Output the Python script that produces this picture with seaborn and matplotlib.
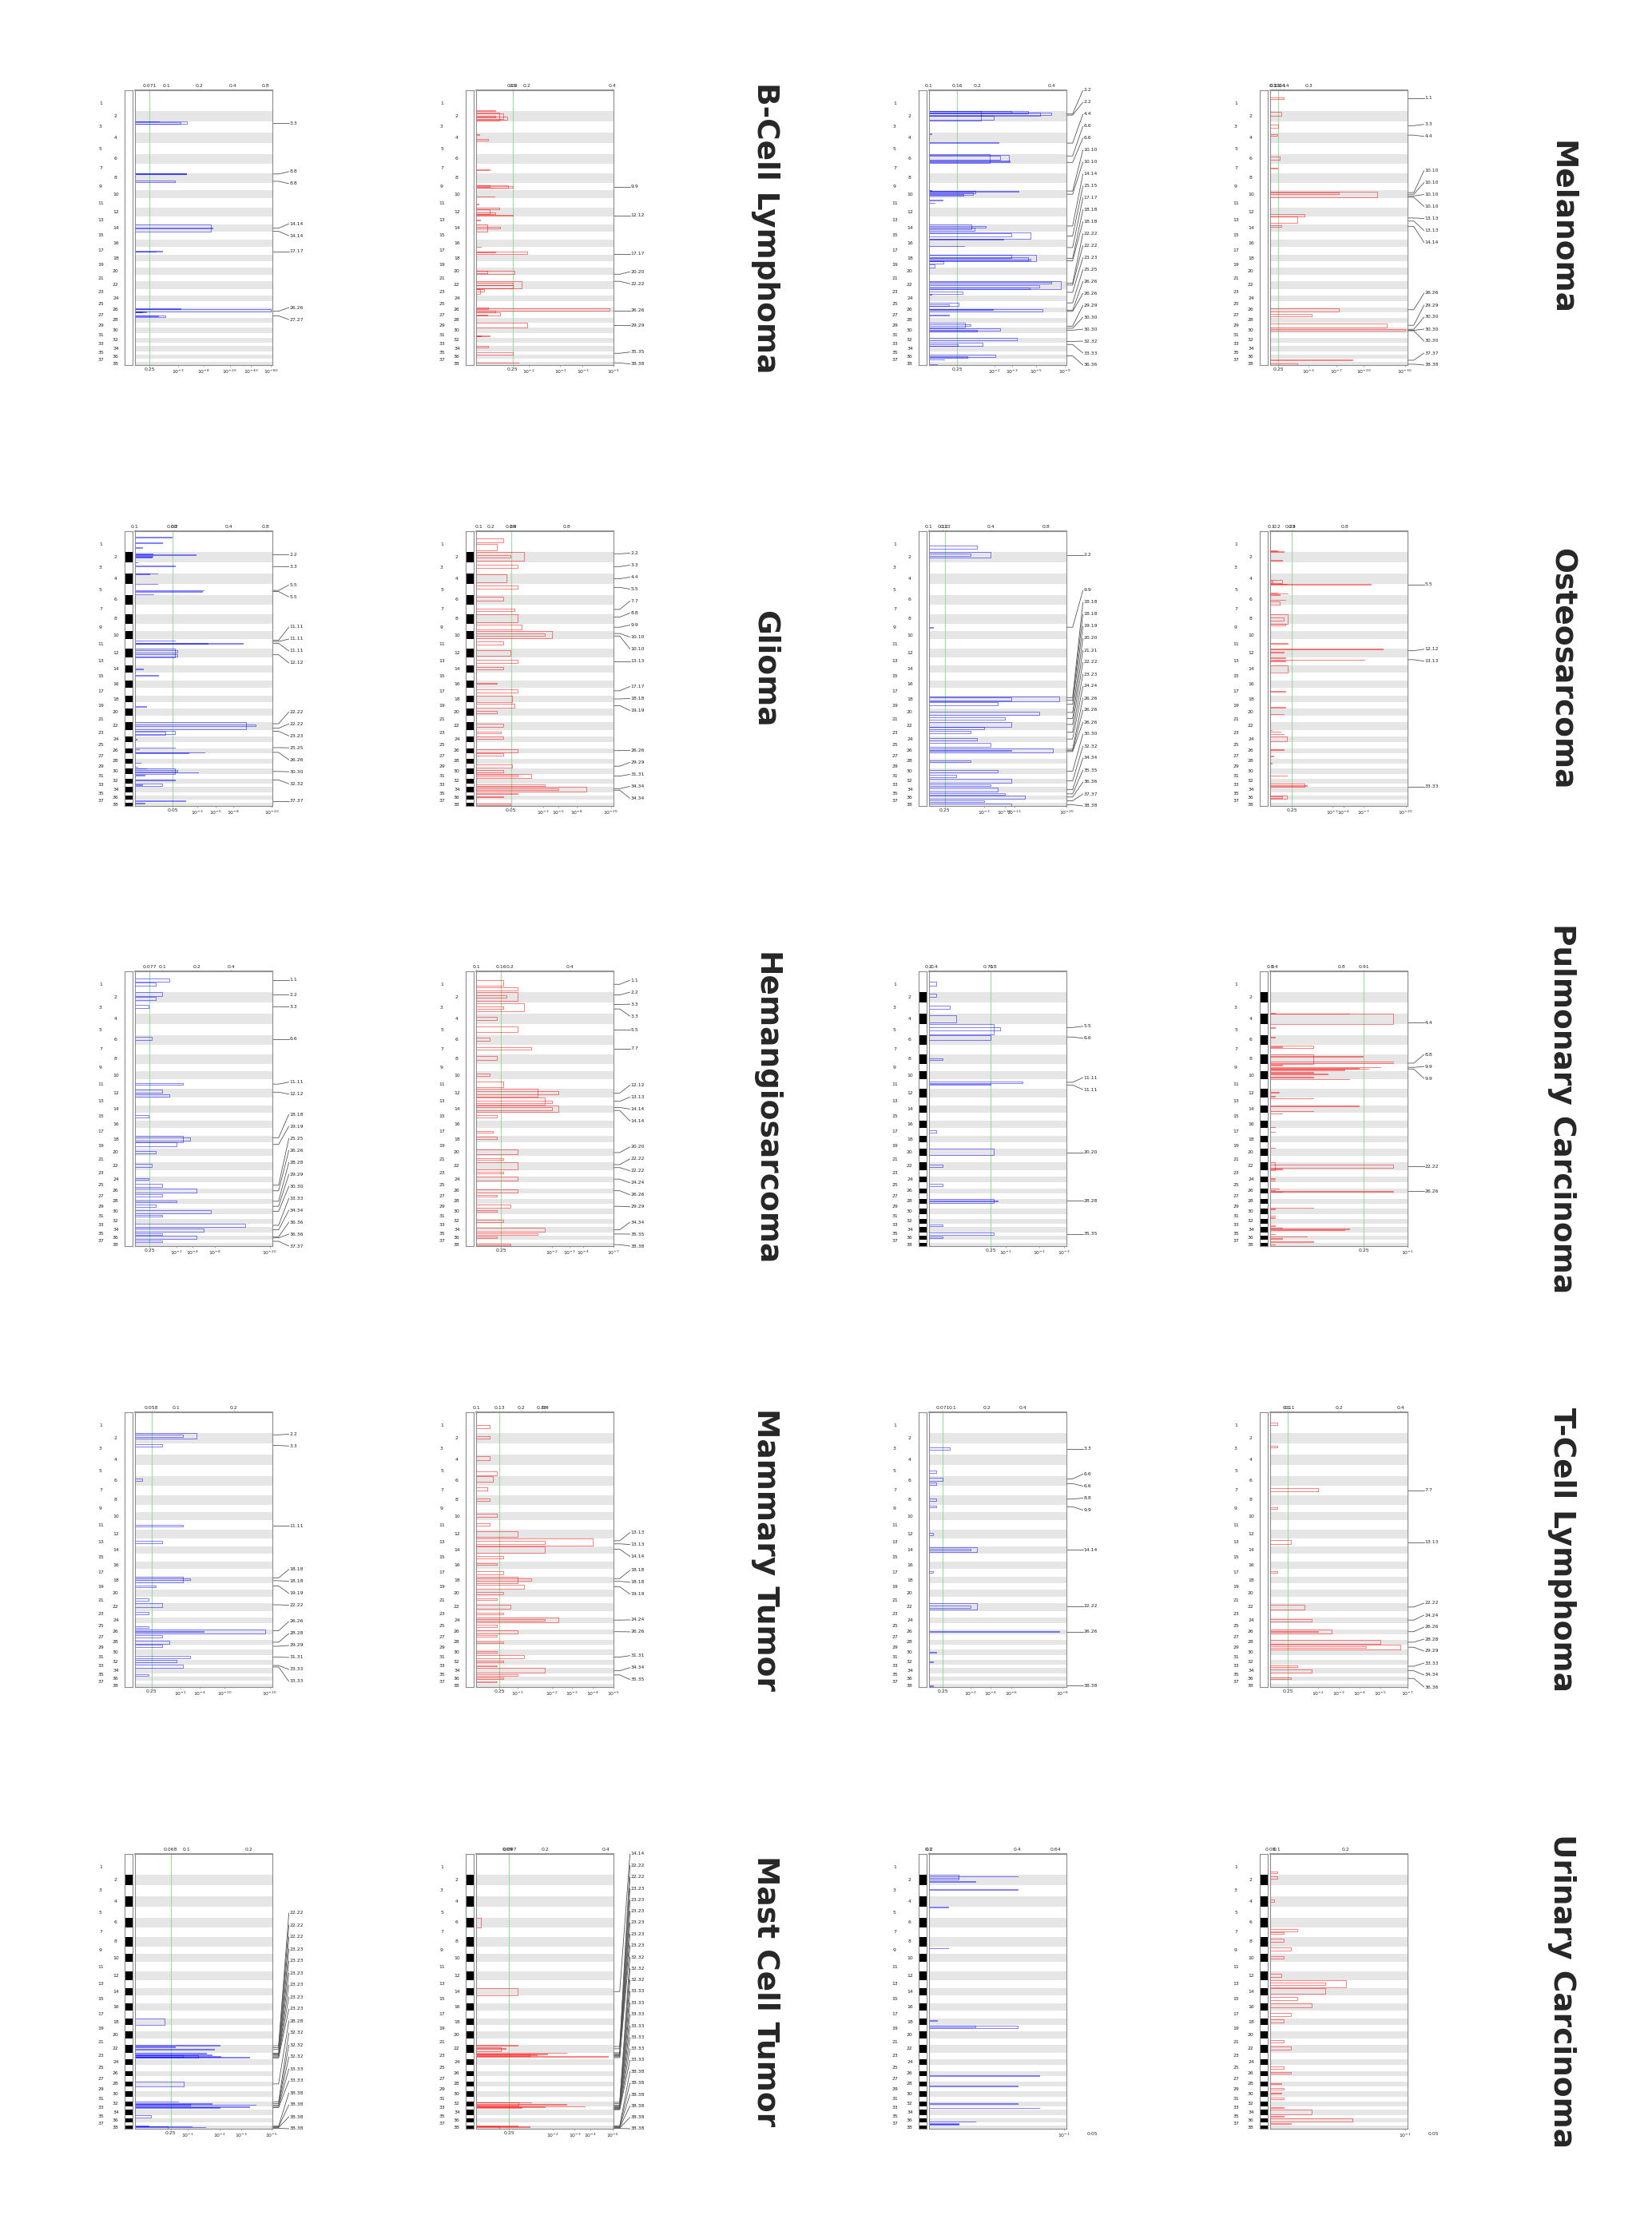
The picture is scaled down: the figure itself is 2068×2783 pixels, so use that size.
import numpy as np
import pandas as pd
import matplotlib
matplotlib.use("Agg")
from matplotlib import pyplot as plt
import matplotlib.transforms as mtransforms
import seaborn as sns

# canine chromosome sizes (Mb), chr1..chr38
CHROM_MB = [122.7, 85.4, 91.9, 88.3, 88.9, 77.6, 81.0, 74.7, 61.1, 69.3,
            74.4, 72.5, 63.2, 61.0, 64.2, 59.6, 64.3, 55.8, 53.7, 58.1,
            50.9, 61.4, 52.3, 47.7, 51.6, 39.0, 45.9, 41.2, 41.8, 40.2,
            39.9, 38.8, 31.4, 42.1, 26.5, 30.8, 31.0, 23.9]

CANCERS = ["B-Cell Lymphoma", "Melanoma", "Glioma", "Osteosarcoma",
           "Hemangiosarcoma", "Pulmonary Carcinoma", "Mammary Tumor",
           "T-Cell Lymphoma", "Mast Cell Tumor", "Urinary Carcinoma"]

# x is the scaled significance score of each panel (0 = left edge, 1 = right edge)
# segments: (chromosome, start fraction, end fraction, score)
# labels: (chromosome, fraction) of the highlighted regions

# ---------------- B-Cell Lymphoma ----------------
BCL_LOSS_TOP = [(0.107, "0.071"), (0.227, "0.1"), (0.47, "0.2"), (0.713, "0.4"), (0.95, "0.8")]
BCL_LOSS_BOTTOM = [(0.107, "0.25"), (0.315, "$10^{-3}$"), (0.499, "$10^{-8}$"), (0.689, "$10^{-20}$"),
                   (0.843, "$10^{-40}$"), (0.99, "$10^{-80}$")]
BCL_LOSS_THR = 0.107
BCL_LOSS_SEGS = [(3, 0.0, 0.05, 0.175), (3, 0.05, 0.25, 0.38), (3, 0.1, 0.2, 0.33),
                 (8, 0.0, 0.06, 0.37), (8, 0.0, 0.04, 0.37), (8, 0.8, 0.98, 0.29),
                 (14, 0.0, 1.0, 0.55), (14, 0.5, 0.6, 0.565),
                 (17, 0.55, 0.65, 0.2), (17, 0.58, 0.62, 0.15),
                 (26, 0.4, 0.82, 0.99), (26, 0.25, 0.4, 0.33), (26, 0.85, 1.0, 0.08), (26, 0.88, 0.98, 0.05),
                 (27, 0.55, 0.9, 0.22), (27, 0.6, 0.75, 0.17)]
BCL_LOSS_LABELS = [(3, 0.18), (8, 0.06), (8, 0.86), (14, 0.54), (14, 0.96), (17, 0.6), (26, 0.82), (27, 0.67)]

BCL_GAIN_TOP = [(0.262, "0.09"), (0.272, "0.1"), (0.37, "0.2"), (0.99, "0.4")]
BCL_GAIN_BOTTOM = [(0.266, "0.25"), (0.383, "$10^{-1}$"), (0.613, "$10^{-2}$"), (0.776, "$10^{-3}$"), (1.0, "$10^{-5}$")]
BCL_GAIN_THR = 0.266
BCL_GAIN_SEGS = [(1, 0.95, 1.0, 0.14), (2, 0.2, 0.95, 0.17), (2, 0.25, 0.8, 0.2), (2, 0.6, 0.85, 0.224),
                 (2, 0.45, 0.65, 0.14), (4, 0.15, 0.25, 0.025), (4, 0.6, 0.75, 0.087), (7, 0.6, 0.68, 0.097),
                 (9, 0.4, 0.7, 0.23), (9, 0.5, 0.65, 0.27), (9, 0.42, 0.55, 0.1), (10, 0.72, 0.8, 0.136),
                 (11, 0.6, 0.64, 0.015), (12, 0.0, 0.2, 0.17), (12, 0.2, 0.7, 0.1), (12, 0.55, 0.7, 0.14),
                 (12, 0.85, 0.95, 0.27), (13, 0.4, 0.48, 0.03), (14, 0.0, 1.0, 0.082), (14, 0.4, 0.55, 0.175),
                 (17, 0.0, 0.04, 0.033), (17, 0.57, 0.95, 0.37), (17, 0.57, 0.7, 0.14),
                 (20, 0.4, 0.9, 0.28), (20, 0.35, 0.7, 0.08), (22, 0.0, 0.95, 0.33), (22, 0.2, 0.5, 0.27),
                 (22, 0.5, 0.9, 0.27), (23, 0.0, 0.8, 0.03), (23, 0.0, 0.4, 0.06),
                 (26, 0.2, 0.7, 0.97), (26, 0.0, 0.4, 0.085), (26, 0.7, 1.0, 0.14),
                 (27, 0.1, 0.6, 0.175), (27, 0.45, 0.65, 0.08), (29, 0.0, 1.0, 0.37),
                 (31, 0.6, 0.75, 0.097), (31, 0.6, 0.68, 0.035), (34, 0.0, 0.3, 0.086),
                 (35, 0.3, 1.0, 0.27), (38, 0.1, 0.3, 0.31)]
BCL_GAIN_LABELS = [(9, 0.57), (12, 0.9), (17, 0.9), (20, 0.88), (22, 0.0), (26, 0.7), (29, 0.5), (35, 0.6), (38, 0.25)]

# ---------------- Melanoma ----------------
MEL_LOSS_TOP = [(0.0, "0.1"), (0.204, "0.16"), (0.35, "0.2"), (0.893, "0.4")]
MEL_LOSS_BOTTOM = [(0.204, "0.25"), (0.476, "$10^{-2}$"), (0.602, "$10^{-3}$"), (0.777, "$10^{-5}$"), (0.99, "$10^{-9}$")]
MEL_LOSS_THR = 0.204
MEL_LOSS_SEGS = [(2, 0.0, 0.95, 0.38), (2, 0.0, 0.2, 0.6), (2, 0.05, 0.25, 0.72), (2, 0.15, 0.4, 0.89),
                 (2, 0.2, 0.5, 0.81), (2, 0.5, 0.85, 0.47), (4, 0.1, 0.2, 0.02), (4, 0.88, 0.97, 0.505),
                 (6, 0.0, 0.95, 0.44), (6, 0.1, 0.8, 0.58), (6, 0.2, 0.6, 0.52), (6, 0.7, 0.85, 0.59),
                 (10, 0.0, 0.1, 0.02), (10, 0.1, 0.2, 0.65), (10, 0.1, 0.4, 0.34), (10, 0.3, 0.6, 0.32),
                 (10, 0.5, 0.7, 0.25), (11, 0.15, 0.2, 0.1), (11, 0.45, 0.5, 0.043),
                 (14, 0.0, 0.7, 0.31), (14, 0.3, 0.5, 0.41), (14, 0.5, 0.9, 0.33),
                 (15, 0.1, 0.95, 0.74), (15, 0.2, 0.6, 0.6), (15, 0.9, 1.0, 0.54), (16, 0.85, 0.95, 0.256),
                 (18, 0.0, 0.95, 0.78), (18, 0.0, 0.5, 0.6), (18, 0.4, 0.8, 0.72), (18, 0.65, 0.9, 0.74),
                 (19, 0.0, 0.3, 0.107), (19, 0.4, 1.0, 0.04), (22, 0.0, 1.0, 0.96), (22, 0.1, 0.3, 0.89),
                 (22, 0.5, 0.8, 0.8), (22, 0.8, 1.0, 0.73), (23, 0.4, 0.85, 0.243), (23, 0.85, 0.95, 0.02),
                 (25, 0.3, 0.8, 0.218), (25, 0.5, 0.8, 0.146), (26, 0.3, 0.9, 0.825), (26, 0.3, 0.6, 0.466),
                 (27, 0.5, 0.6, 0.146), (29, 0.0, 1.0, 0.26), (29, 0.3, 0.7, 0.3),
                 (30, 0.05, 0.6, 0.515), (30, 0.5, 0.8, 0.35), (32, 0.0, 0.5, 0.637),
                 (33, 0.1, 0.9, 0.39), (33, 0.5, 1.0, 0.21), (36, 0.0, 0.6, 0.485), (36, 0.5, 0.9, 0.28),
                 (37, 0.2, 0.4, 0.113), (38, 0.8, 1.0, 0.06)]
MEL_LOSS_LABELS = [(2, 0.31), (2, 0.42), (4, 0.99), (6, 0.2), (6, 0.88), (10, 0.12), (10, 0.5), (14, 0.25),
                   (15, 0.57), (17, 0.1), (18, 0.55), (18, 0.9), (22, 0.25), (22, 0.5), (23, 0.55),
                   (25, 0.3), (26, 0.6), (26, 0.85), (29, 0.67), (30, 0.08), (30, 0.48), (32, 0.8),
                   (33, 0.55), (36, 0.35)]

MEL_GAIN_TOP = [(0.02, "0.1"), (0.04, "0.11"), (0.07, "0.14"), (0.1, "0.14"), (0.28, "0.3")]
MEL_GAIN_BOTTOM = [(0.06, "0.25"), (0.28, "$10^{-3}$"), (0.48, "$10^{-7}$"), (0.68, "$10^{-20}$"), (0.98, "$10^{-30}$")]
MEL_GAIN_THR = 0.06
MEL_GAIN_SEGS = [(1, 0.1, 0.2, 0.1), (2, 0.1, 0.5, 0.08), (3, 0.3, 0.6, 0.06), (4, 0.2, 0.3, 0.05),
                 (6, 0.3, 0.6, 0.07), (7, 0.4, 0.5, 0.05), (10, 0.2, 0.9, 0.78), (10, 0.3, 0.5, 0.5),
                 (12, 0.7, 1.0, 0.25), (13, 0.0, 0.8, 0.2), (14, 0.1, 0.4, 0.08), (26, 0.2, 0.8, 0.5),
                 (27, 0.3, 0.7, 0.3), (29, 0.2, 0.9, 0.85), (30, 0.2, 0.6, 0.98), (37, 0.3, 0.6, 0.6),
                 (38, 0.5, 0.9, 0.2)]
MEL_GAIN_LABELS = [(1, 0.15), (3, 0.4), (4, 0.25), (10, 0.3), (10, 0.5), (10, 0.7), (10, 0.85), (13, 0.2),
                   (13, 0.6), (14, 0.3), (26, 0.5), (29, 0.5), (30, 0.3), (30, 0.5), (30, 0.6), (37, 0.5), (38, 0.7)]

# ---------------- Glioma ----------------
GLI_LOSS_TOP = [(0.0, "0.1"), (0.27, "0.08"), (0.285, "0.2"), (0.683, "0.4"), (0.951, "0.8")]
GLI_LOSS_BOTTOM = [(0.275, "0.05"), (0.454, "$10^{-3}$"), (0.586, "$10^{-5}$"), (0.713, "$10^{-8}$"), (0.994, "$10^{-20}$")]
GLI_LOSS_THR = 0.275
GLI_LOSS_SEGS = [(1, 0.02, 0.05, 0.266), (1, 0.4, 0.43, 0.2), (1, 0.7, 0.73, 0.05),
                 (2, 0.2, 0.25, 0.13), (2, 0.28, 0.33, 0.44), (2, 0.4, 0.45, 0.13), (2, 0.5, 0.55, 0.12),
                 (3, 0.0, 0.03, 0.02), (3, 0.33, 0.38, 0.29), (4, 0.0, 0.03, 0.165), (4, 0.05, 0.08, 0.107),
                 (4, 0.95, 0.99, 0.165), (5, 0.55, 0.6, 0.5), (5, 0.65, 0.7, 0.49), (5, 0.92, 0.97, 0.136),
                 (11, 0.1, 0.14, 0.29), (11, 0.4, 0.45, 0.786), (11, 0.4, 0.45, 0.53),
                 (12, 0.0, 1.0, 0.29), (12, 0.2, 0.5, 0.31), (12, 0.6, 0.9, 0.31),
                 (14, 0.5, 0.55, 0.06), (15, 0.35, 0.4, 0.17), (19, 0.6, 0.68, 0.08),
                 (22, 0.0, 0.92, 0.81), (22, 0.3, 0.5, 0.877), (23, 0.2, 0.7, 0.29), (23, 0.3, 0.8, 0.22),
                 (24, 0.5, 0.55, 0.01), (25, 0.88, 0.92, 0.29), (26, 0.2, 0.25, 0.03),
                 (26, 0.82, 0.87, 0.505), (26, 0.92, 0.97, 0.39), (28, 0.82, 0.87, 0.04),
                 (29, 0.6, 0.66, 0.02), (29, 0.9, 0.95, 0.08), (30, 0.0, 1.0, 0.29), (30, 0.3, 0.6, 0.31),
                 (30, 0.75, 0.8, 0.46), (31, 0.3, 0.35, 0.07), (32, 0.2, 0.4, 0.29), (33, 0.0, 0.7, 0.2),
                 (33, 0.2, 0.5, 0.05), (37, 0.4, 0.5, 0.367), (38, 0.0, 0.2, 0.07)]
GLI_LOSS_LABELS = [(2, 0.3), (3, 0.4), (5, 0.58), (5, 0.68), (11, 0.1), (11, 0.23), (11, 0.43), (12, 0.7),
                   (22, 0.2), (22, 0.8), (23, 0.25), (25, 0.9), (26, 0.87), (30, 0.55), (32, 0.3), (37, 0.5)]

GLI_GAIN_TOP = [(0.02, "0.1"), (0.11, "0.2"), (0.25, "0.28"), (0.27, "0.4"), (0.66, "0.8")]
GLI_GAIN_BOTTOM = [(0.255, "0.05"), (0.49, "$10^{-3}$"), (0.6, "$10^{-5}$"), (0.73, "$10^{-8}$"), (0.98, "$10^{-20}$")]
GLI_GAIN_THR = 0.255
GLI_GAIN_SEGS = [(1, 0.1, 0.4, 0.2), (1, 0.5, 0.9, 0.15), (2, 0.0, 0.9, 0.35), (2, 0.3, 0.6, 0.25),
                 (3, 0.2, 0.5, 0.3), (4, 0.1, 0.8, 0.22), (5, 0.1, 0.4, 0.3), (6, 0.2, 0.6, 0.2),
                 (7, 0.4, 0.7, 0.28), (8, 0.0, 0.9, 0.3), (9, 0.2, 0.8, 0.33), (10, 0.0, 0.9, 0.55),
                 (10, 0.3, 0.6, 0.5), (11, 0.2, 0.6, 0.2), (12, 0.2, 0.8, 0.25), (13, 0.3, 0.7, 0.3),
                 (14, 0.3, 0.6, 0.2), (16, 0.3, 0.5, 0.15), (17, 0.2, 0.6, 0.3), (18, 0.0, 1.0, 0.26),
                 (19, 0.2, 0.8, 0.28), (20, 0.3, 0.6, 0.15), (22, 0.2, 0.6, 0.2), (23, 0.3, 0.6, 0.18),
                 (24, 0.1, 0.5, 0.2), (26, 0.2, 0.8, 0.3), (27, 0.1, 0.4, 0.2), (29, 0.2, 0.8, 0.26),
                 (30, 0.3, 0.7, 0.2), (31, 0.0, 0.9, 0.4), (31, 0.3, 0.6, 0.3), (33, 0.2, 0.8, 0.5),
                 (34, 0.0, 0.9, 0.8), (34, 0.3, 0.6, 0.6), (35, 0.2, 0.6, 0.3), (36, 0.2, 0.5, 0.2),
                 (38, 0.2, 0.6, 0.25)]
GLI_GAIN_LABELS = [(2, 0.2), (3, 0.4), (4, 0.5), (5, 0.3), (7, 0.5), (8, 0.3), (9, 0.5), (10, 0.3), (10, 0.6),
                   (13, 0.5), (17, 0.4), (18, 0.5), (19, 0.5), (26, 0.5), (29, 0.5), (31, 0.5), (34, 0.3), (34, 0.6)]

# ---------------- Osteosarcoma ----------------
OST_LOSS_TOP = [(0.0, "0.1"), (0.1, "0.12"), (0.12, "0.13"), (0.45, "0.4"), (0.85, "0.8")]
OST_LOSS_BOTTOM = [(0.115, "0.25"), (0.4, "$10^{-3}$"), (0.55, "$10^{-10}$"), (0.62, "$10^{-13}$"), (1.0, "$10^{-20}$")]
OST_LOSS_THR = 0.115
OST_LOSS_SEGS = [(1, 0.6, 0.8, 0.35), (2, 0.0, 0.6, 0.45), (2, 0.2, 0.4, 0.3), (9, 0.5, 0.6, 0.03),
                 (18, 0.2, 0.9, 0.95), (18, 0.3, 0.7, 0.6), (19, 0.0, 0.5, 0.5), (20, 0.4, 0.8, 0.8),
                 (21, 0.2, 0.6, 0.55), (22, 0.0, 0.6, 0.6), (22, 0.6, 0.9, 0.4), (23, 0.2, 0.6, 0.3),
                 (24, 0.3, 0.7, 0.35), (25, 0.2, 0.8, 0.45), (26, 0.0, 0.8, 0.9), (26, 0.3, 0.6, 0.6),
                 (28, 0.3, 0.7, 0.3), (30, 0.2, 0.8, 0.5), (31, 0.3, 0.7, 0.2), (32, 0.0, 0.9, 0.6),
                 (33, 0.2, 0.7, 0.45), (34, 0.1, 0.9, 0.5), (35, 0.2, 0.8, 0.55), (36, 0.1, 0.8, 0.7),
                 (37, 0.2, 0.7, 0.4), (38, 0.3, 0.9, 0.6)]
OST_LOSS_LABELS = [(2, 0.3), (9, 0.5), (18, 0.3), (18, 0.7), (19, 0.3), (20, 0.5), (21, 0.4), (22, 0.3),
                   (23, 0.4), (24, 0.5), (26, 0.2), (26, 0.5), (26, 0.7), (30, 0.5), (32, 0.5), (34, 0.5),
                   (35, 0.5), (36, 0.4), (37, 0.4), (38, 0.6)]

OST_GAIN_TOP = [(0.01, "0.1"), (0.05, "0.2"), (0.15, "0.29"), (0.16, "0.3"), (0.545, "0.8")]
OST_GAIN_BOTTOM = [(0.159, "0.25"), (0.455, "$10^{-3}$"), (0.532, "$10^{-4}$"), (0.68, "$10^{-7}$"), (0.986, "$10^{-20}$")]
OST_GAIN_THR = 0.159
OST_GAIN_SEGS = [(1, 0.93, 0.96, 0.052), (1, 0.98, 1.0, 0.1), (2, 0.8, 0.84, 0.09),
                 (4, 0.6, 0.9, 0.087), (4, 0.7, 0.8, 0.02), (4, 0.95, 1.0, 0.12), (5, 0.0, 0.05, 0.735),
                 (5, 0.78, 0.8, 0.05), (5, 0.85, 0.88, 0.13), (5, 0.95, 0.98, 0.07),
                 (6, 0.5, 0.55, 0.11), (6, 0.7, 0.98, 0.068), (8, 0.0, 1.0, 0.13), (8, 0.3, 0.7, 0.1),
                 (9, 0.05, 0.3, 0.11), (11, 0.4, 0.45, 0.13), (12, 0.05, 0.1, 0.82), (12, 0.4, 0.45, 0.1),
                 (13, 0.05, 0.1, 0.11), (13, 0.28, 0.32, 0.687), (13, 0.45, 0.5, 0.11), (14, 0.0, 1.0, 0.13),
                 (17, 0.45, 0.5, 0.11), (19, 0.72, 0.77, 0.11), (20, 0.68, 0.72, 0.1),
                 (23, 0.0, 0.04, 0.01), (23, 0.3, 0.34, 0.075), (23, 0.68, 0.72, 0.1), (24, 0.1, 0.9, 0.12),
                 (26, 0.25, 0.3, 0.1), (27, 0.5, 0.55, 0.024), (28, 0.88, 0.92, 0.01), (31, 0.35, 0.4, 0.12),
                 (33, 0.1, 1.0, 0.25), (33, 0.5, 0.7, 0.265), (36, 0.1, 0.9, 0.12), (36, 0.3, 0.6, 0.09)]
OST_GAIN_LABELS = [(5, 0.05), (12, 0.25), (13, 0.3), (33, 0.9)]

# ---------------- Hemangiosarcoma ----------------
HSA_LOSS_TOP = [(0.107, "0.077"), (0.2, "0.1"), (0.45, "0.2"), (0.7, "0.4")]
HSA_LOSS_BOTTOM = [(0.107, "0.25"), (0.3, "$10^{-2}$"), (0.42, "$10^{-4}$"), (0.58, "$10^{-8}$"), (0.98, "$10^{-20}$")]
HSA_LOSS_THR = 0.107
HSA_LOSS_SEGS = [(1, 0.1, 0.3, 0.25), (1, 0.4, 0.6, 0.15), (2, 0.0, 0.4, 0.2), (2, 0.5, 0.8, 0.15),
                 (3, 0.2, 0.5, 0.1), (6, 0.2, 0.5, 0.12), (11, 0.4, 0.6, 0.35), (12, 0.1, 0.5, 0.2),
                 (12, 0.6, 0.9, 0.25), (15, 0.3, 0.6, 0.1), (18, 0.0, 1.0, 0.35), (18, 0.3, 0.7, 0.4),
                 (19, 0.0, 0.6, 0.3), (20, 0.3, 0.6, 0.15), (22, 0.2, 0.6, 0.12), (24, 0.4, 0.6, 0.1),
                 (25, 0.3, 0.8, 0.2), (26, 0.1, 0.9, 0.45), (27, 0.2, 0.6, 0.2), (28, 0.3, 0.7, 0.3),
                 (29, 0.2, 0.7, 0.15), (30, 0.3, 0.9, 0.55), (31, 0.2, 0.6, 0.2), (33, 0.1, 0.9, 0.8),
                 (34, 0.2, 0.8, 0.5), (35, 0.3, 0.7, 0.2), (36, 0.1, 0.9, 0.45), (37, 0.4, 0.7, 0.2)]
HSA_LOSS_LABELS = [(1, 0.2), (2, 0.3), (3, 0.4), (6, 0.4), (11, 0.5), (12, 0.4), (18, 0.3), (19, 0.3), (25, 0.5),
                   (26, 0.5), (28, 0.5), (29, 0.5), (30, 0.5), (33, 0.5), (34, 0.5), (36, 0.3), (36, 0.6), (37, 0.5)]

HSA_GAIN_TOP = [(0.0, "0.1"), (0.18, "0.16"), (0.25, "0.2"), (0.68, "0.4")]
HSA_GAIN_BOTTOM = [(0.18, "0.25"), (0.55, "$10^{-2}$"), (0.68, "$10^{-3}$"), (0.78, "$10^{-4}$"), (1.0, "$10^{-7}$")]
HSA_GAIN_THR = 0.18
HSA_GAIN_SEGS = [(1, 0.2, 0.6, 0.2), (1, 0.7, 0.9, 0.3), (2, 0.0, 0.9, 0.3), (2, 0.3, 0.6, 0.22),
                 (3, 0.1, 0.8, 0.35), (3, 0.4, 0.6, 0.2), (4, 0.3, 0.6, 0.15), (5, 0.2, 0.7, 0.3),
                 (6, 0.3, 0.6, 0.1), (7, 0.3, 0.5, 0.4), (8, 0.2, 0.6, 0.15), (10, 0.3, 0.6, 0.1),
                 (11, 0.2, 0.8, 0.2), (12, 0.0, 0.9, 0.45), (12, 0.3, 0.6, 0.6), (13, 0.0, 0.9, 0.5),
                 (13, 0.4, 0.7, 0.55), (14, 0.0, 0.9, 0.6), (14, 0.3, 0.7, 0.55), (15, 0.3, 0.6, 0.15),
                 (17, 0.4, 0.6, 0.12), (18, 0.2, 0.5, 0.15), (20, 0.1, 0.7, 0.3), (21, 0.3, 0.6, 0.2),
                 (22, 0.0, 0.9, 0.3), (23, 0.3, 0.6, 0.2), (24, 0.1, 0.8, 0.3), (26, 0.2, 0.8, 0.3),
                 (27, 0.3, 0.6, 0.15), (29, 0.2, 0.8, 0.25), (30, 0.3, 0.6, 0.15), (32, 0.2, 0.7, 0.2),
                 (34, 0.1, 0.9, 0.5), (35, 0.2, 0.8, 0.45), (36, 0.3, 0.6, 0.15), (38, 0.2, 0.7, 0.25)]
HSA_GAIN_LABELS = [(1, 0.5), (2, 0.3), (3, 0.2), (3, 0.6), (5, 0.5), (7, 0.4), (12, 0.5), (13, 0.5), (14, 0.3),
                   (14, 0.7), (20, 0.5), (22, 0.3), (22, 0.7), (24, 0.5), (26, 0.5), (29, 0.5), (34, 0.5),
                   (35, 0.5), (38, 0.5)]

# ---------------- Pulmonary Carcinoma ----------------
PUL_LOSS_TOP = [(0.0, "0.2"), (0.04, "0.4"), (0.43, "0.71"), (0.47, "0.8")]
PUL_LOSS_BOTTOM = [(0.45, "0.25"), (0.56, "$10^{-1}$"), (0.8, "$10^{-2}$"), (0.98, "$10^{-3}$")]
PUL_LOSS_THR = 0.45
PUL_LOSS_SEGS = [(1, 0.3, 0.6, 0.05), (2, 0.2, 0.5, 0.05), (3, 0.3, 0.6, 0.15), (4, 0.2, 0.8, 0.2),
                 (5, 0.0, 0.9, 0.47), (5, 0.3, 0.6, 0.52), (6, 0.0, 0.5, 0.45), (8, 0.4, 0.6, 0.1),
                 (11, 0.2, 0.4, 0.68), (11, 0.5, 0.6, 0.45), (17, 0.3, 0.6, 0.05), (20, 0.0, 0.8, 0.47),
                 (22, 0.3, 0.6, 0.1), (25, 0.3, 0.6, 0.1), (28, 0.0, 0.8, 0.47), (28, 0.3, 0.5, 0.5),
                 (33, 0.3, 0.7, 0.1), (35, 0.0, 0.9, 0.47), (36, 0.3, 0.6, 0.1)]
PUL_LOSS_LABELS = [(5, 0.3), (6, 0.2), (11, 0.3), (11, 0.6), (20, 0.5), (28, 0.4), (35, 0.5)]

PUL_GAIN_TOP = [(0.0, "0.3"), (0.03, "0.4"), (0.518, "0.8"), (0.681, "0.91")]
PUL_GAIN_BOTTOM = [(0.681, "0.25"), (1.0, "$10^{-1}$")]
PUL_GAIN_THR = 0.681
PUL_GAIN_SEGS = [(3, 0.95, 1.0, 0.035), (4, 0.0, 1.0, 0.896), (4, 0.0, 0.03, 0.575), (5, 0.3, 0.34, 0.035),
                 (6, 0.2, 0.25, 0.035), (7, 0.1, 0.35, 0.315), (7, 0.2, 0.3, 0.09),
                 (8, 0.0, 1.0, 0.315), (8, 0.2, 0.25, 0.677), (8, 0.75, 0.8, 0.896), (8, 0.93, 0.97, 0.896),
                 (9, 0.2, 0.24, 0.09), (9, 0.48, 0.52, 0.8), (9, 0.63, 0.67, 0.648), (9, 0.7, 0.74, 0.716),
                 (9, 0.85, 0.9, 0.54), (10, 0.15, 0.2, 0.315), (10, 0.33, 0.37, 0.42), (10, 0.7, 0.74, 0.315),
                 (10, 0.95, 0.99, 0.575), (12, 0.4, 0.45, 0.064), (12, 0.85, 0.9, 0.035), (13, 0.1, 0.14, 0.315),
                 (14, 0.05, 0.1, 0.648), (14, 0.75, 0.8, 0.315), (15, 0.1, 0.15, 0.09), (16, 0.9, 0.95, 0.035),
                 (17, 0.5, 0.55, 0.035), (19, 0.8, 0.85, 0.035), (22, 0.0, 1.0, 0.035), (22, 0.3, 0.75, 0.896),
                 (22, 0.85, 0.9, 0.09), (24, 0.4, 0.45, 0.035), (24, 0.7, 0.75, 0.035),
                 (26, 0.05, 0.1, 0.062), (26, 0.4, 0.45, 0.035), (26, 0.6, 0.65, 0.896), (26, 0.68, 0.72, 0.09),
                 (29, 0.8, 0.85, 0.315), (30, 0.0, 0.05, 0.035), (31, 0.4, 0.45, 0.035), (31, 0.8, 0.85, 0.035),
                 (33, 0.6, 0.65, 0.035), (34, 0.1, 0.15, 0.09), (34, 0.3, 0.35, 0.575), (34, 0.5, 0.55, 0.54),
                 (35, 0.6, 0.65, 0.035), (36, 0.2, 0.25, 0.265), (36, 0.75, 0.8, 0.09), (37, 0.6, 0.65, 0.315),
                 (38, 0.4, 0.45, 0.035)]
PUL_GAIN_LABELS = [(4, 0.85), (8, 0.95), (9, 0.5), (9, 0.72), (22, 0.55), (26, 0.63)]

# ---------------- Mammary Tumor ----------------
MAM_LOSS_TOP = [(0.12, "0.058"), (0.3, "0.1"), (0.72, "0.2")]
MAM_LOSS_BOTTOM = [(0.12, "0.25"), (0.33, "$10^{-2}$"), (0.47, "$10^{-4}$"), (0.65, "$10^{-10}$"), (0.98, "$10^{-20}$")]
MAM_LOSS_THR = 0.12
MAM_LOSS_SEGS = [(2, 0.0, 0.6, 0.45), (2, 0.2, 0.4, 0.35), (3, 0.1, 0.3, 0.2), (6, 0.3, 0.5, 0.05),
                 (11, 0.5, 0.7, 0.35), (13, 0.3, 0.6, 0.2), (18, 0.0, 0.8, 0.35), (18, 0.3, 0.5, 0.4),
                 (19, 0.3, 0.6, 0.15), (21, 0.2, 0.6, 0.1), (22, 0.0, 0.5, 0.2), (23, 0.2, 0.5, 0.1),
                 (25, 0.5, 0.8, 0.1), (26, 0.1, 0.8, 0.95), (26, 0.3, 0.6, 0.5), (27, 0.2, 0.6, 0.2),
                 (28, 0.2, 0.8, 0.25), (29, 0.0, 0.5, 0.2), (31, 0.2, 0.8, 0.4), (32, 0.1, 0.6, 0.3),
                 (33, 0.0, 0.9, 0.35), (35, 0.3, 0.7, 0.1)]
MAM_LOSS_LABELS = [(2, 0.2), (3, 0.2), (11, 0.6), (18, 0.2), (18, 0.6), (19, 0.4), (22, 0.2), (26, 0.3),
                   (28, 0.5), (29, 0.3), (31, 0.5), (33, 0.3), (33, 0.7)]

MAM_GAIN_TOP = [(0.0, "0.1"), (0.17, "0.13"), (0.33, "0.2"), (0.48, "0.38"), (0.5, "0.4")]
MAM_GAIN_BOTTOM = [(0.17, "0.25"), (0.3, "$10^{-1}$"), (0.55, "$10^{-2}$"), (0.7, "$10^{-3}$"), (0.85, "$10^{-4}$"), (1.0, "$10^{-5}$")]
MAM_GAIN_THR = 0.17
MAM_GAIN_SEGS = [(1, 0.5, 0.7, 0.1), (2, 0.3, 0.6, 0.1), (4, 0.2, 0.5, 0.1), (5, 0.6, 0.9, 0.15),
                 (6, 0.0, 0.6, 0.12), (7, 0.2, 0.5, 0.08), (8, 0.3, 0.6, 0.1), (10, 0.2, 0.6, 0.15),
                 (11, 0.3, 0.6, 0.1), (12, 0.2, 0.8, 0.3), (13, 0.0, 0.9, 0.85), (13, 0.3, 0.7, 0.5),
                 (14, 0.0, 0.9, 0.5), (15, 0.3, 0.6, 0.2), (16, 0.2, 0.5, 0.15), (17, 0.3, 0.7, 0.2),
                 (18, 0.0, 1.0, 0.3), (18, 0.3, 0.6, 0.4), (19, 0.2, 0.8, 0.35), (20, 0.3, 0.6, 0.2),
                 (21, 0.2, 0.5, 0.15), (22, 0.2, 0.7, 0.25), (23, 0.3, 0.6, 0.2), (24, 0.0, 0.9, 0.6),
                 (24, 0.3, 0.6, 0.5), (25, 0.3, 0.6, 0.15), (26, 0.2, 0.8, 0.3), (27, 0.2, 0.5, 0.15),
                 (28, 0.3, 0.7, 0.2), (30, 0.2, 0.6, 0.15), (31, 0.1, 0.8, 0.35), (32, 0.2, 0.6, 0.2),
                 (33, 0.2, 0.5, 0.15), (34, 0.0, 0.9, 0.5), (35, 0.2, 0.8, 0.3), (36, 0.3, 0.6, 0.2),
                 (37, 0.3, 0.6, 0.15)]
MAM_GAIN_LABELS = [(13, 0.3), (13, 0.7), (14, 0.4), (18, 0.3), (18, 0.7), (19, 0.5), (24, 0.5), (26, 0.5),
                   (31, 0.5), (34, 0.5), (35, 0.5)]

# ---------------- T-Cell Lymphoma ----------------
TCL_LOSS_TOP = [(0.1, "0.071"), (0.17, "0.1"), (0.42, "0.2"), (0.68, "0.4")]
TCL_LOSS_BOTTOM = [(0.1, "0.25"), (0.3, "$10^{-2}$"), (0.45, "$10^{-4}$"), (0.6, "$10^{-6}$"), (0.97, "$10^{-8}$")]
TCL_LOSS_THR = 0.1
TCL_LOSS_SEGS = [(3, 0.4, 0.6, 0.15), (5, 0.5, 0.7, 0.05), (6, 0.2, 0.5, 0.1), (6, 0.7, 0.9, 0.05),
                 (8, 0.3, 0.6, 0.05), (9, 0.2, 0.4, 0.05), (12, 0.4, 0.6, 0.03), (14, 0.2, 0.8, 0.35),
                 (14, 0.4, 0.6, 0.3), (17, 0.3, 0.5, 0.03), (22, 0.0, 0.8, 0.35), (22, 0.3, 0.6, 0.3),
                 (26, 0.3, 0.6, 0.95), (30, 0.4, 0.6, 0.05), (32, 0.4, 0.6, 0.03), (38, 0.4, 0.6, 0.03)]
TCL_LOSS_LABELS = [(3, 0.5), (6, 0.3), (6, 0.8), (8, 0.4), (9, 0.3), (14, 0.5), (22, 0.4), (26, 0.5), (38, 0.5)]

TCL_GAIN_TOP = [(0.12, "0.1"), (0.14, "0.11"), (0.5, "0.2"), (0.95, "0.4")]
TCL_GAIN_BOTTOM = [(0.13, "0.25"), (0.35, "$10^{-2}$"), (0.5, "$10^{-3}$"), (0.65, "$10^{-4}$"), (0.8, "$10^{-5}$"), (1.0, "$10^{-7}$")]
TCL_GAIN_THR = 0.13
TCL_GAIN_SEGS = [(1, 0.3, 0.5, 0.05), (3, 0.2, 0.4, 0.05), (7, 0.3, 0.6, 0.35), (9, 0.4, 0.6, 0.05),
                 (13, 0.2, 0.7, 0.15), (17, 0.3, 0.5, 0.05), (22, 0.2, 0.8, 0.25), (24, 0.3, 0.7, 0.3),
                 (26, 0.0, 0.9, 0.45), (26, 0.3, 0.6, 0.35), (28, 0.0, 0.9, 0.8), (29, 0.0, 0.9, 0.95),
                 (29, 0.3, 0.6, 0.7), (33, 0.3, 0.7, 0.2), (34, 0.2, 0.8, 0.3), (36, 0.3, 0.6, 0.15)]
TCL_GAIN_LABELS = [(7, 0.5), (13, 0.5), (22, 0.5), (24, 0.5), (26, 0.5), (28, 0.5), (29, 0.5), (33, 0.5),
                   (34, 0.5), (36, 0.5)]

# ---------------- Mast Cell Tumor ----------------
MCT_LOSS_TOP = [(0.26, "0.068"), (0.373, "0.1"), (0.829, "0.2")]
MCT_LOSS_BOTTOM = [(0.26, "0.25"), (0.383, "$10^{-1}$"), (0.616, "$10^{-2}$"), (0.775, "$10^{-3}$"), (0.994, "$10^{-5}$")]
MCT_LOSS_THR = 0.26
MCT_LOSS_SEGS = [(18, 0.0, 1.0, 0.217), (22, 0.0, 0.1, 0.616), (22, 0.2, 0.3, 0.29), (22, 0.5, 0.6, 0.577),
                 (23, 0.1, 0.2, 0.52), (23, 0.3, 0.4, 0.56), (23, 0.4, 0.75, 0.46), (23, 0.45, 0.65, 0.35),
                 (23, 0.7, 0.8, 0.829), (23, 0.55, 0.65, 0.62), (28, 0.0, 1.0, 0.357),
                 (32, 0.0, 0.1, 0.315), (32, 0.4, 0.5, 0.557), (32, 0.7, 0.8, 0.878), (33, 0.1, 0.2, 0.83),
                 (33, 0.3, 0.4, 0.616), (32, 0.5, 0.9, 0.4), (35, 0.1, 0.8, 0.117),
                 (38, 0.0, 0.08, 0.1), (38, 0.2, 0.3, 0.41), (38, 0.35, 0.45, 0.51), (38, 0.3, 0.95, 0.24)]
MCT_LOSS_LABELS = [(22, 0.1), (22, 0.35), (22, 0.6), (23, 0.1), (23, 0.25), (23, 0.4), (23, 0.55), (23, 0.7),
                   (23, 0.85), (28, 0.5), (32, 0.1), (32, 0.5), (32, 0.8), (33, 0.1), (33, 0.4),
                   (38, 0.1), (38, 0.35), (38, 0.6), (38, 0.85)]

MCT_GAIN_TOP = [(0.232, "0.09"), (0.245, "0.097"), (0.504, "0.2"), (0.947, "0.4")]
MCT_GAIN_BOTTOM = [(0.241, "0.25"), (0.558, "$10^{-2}$"), (0.718, "$10^{-3}$"), (0.83, "$10^{-4}$"), (0.996, "$10^{-6}$")]
MCT_GAIN_THR = 0.241
MCT_GAIN_SEGS = [(6, 0.0, 1.0, 0.037), (14, 0.0, 1.0, 0.305), (22, 0.0, 0.1, 0.305), (22, 0.4, 0.5, 0.214),
                 (22, 0.3, 0.8, 0.18), (23, 0.0, 0.1, 0.656), (23, 0.2, 0.3, 0.52), (23, 0.35, 0.45, 0.44),
                 (23, 0.6, 0.7, 0.961), (23, 0.3, 0.6, 0.39), (32, 0.2, 0.3, 0.4), (32, 0.6, 0.7, 0.656),
                 (33, 0.0, 0.1, 0.79), (33, 0.3, 0.4, 0.33), (32, 0.3, 0.9, 0.31), (33, 0.1, 0.3, 0.5),
                 (38, 0.0, 0.1, 0.305), (38, 0.3, 0.4, 0.39), (38, 0.1, 0.9, 0.17)]
MCT_GAIN_LABELS = [(14, 0.5), (22, 0.2), (22, 0.5), (23, 0.05), (23, 0.2), (23, 0.35), (23, 0.5), (23, 0.65),
                   (23, 0.8), (32, 0.2), (32, 0.5), (32, 0.8), (33, 0.05), (33, 0.2), (33, 0.35), (33, 0.5),
                   (33, 0.65), (33, 0.8), (33, 0.95), (38, 0.05), (38, 0.25), (38, 0.45), (38, 0.6),
                   (38, 0.75), (38, 0.9)]

# ---------------- Urinary Carcinoma ----------------
UCC_LOSS_TOP = [(0.0, "0.1"), (0.005, "0.2"), (0.64, "0.4"), (0.922, "0.64")]
UCC_LOSS_BOTTOM = [(0.98, "$10^{-1}$"), (1.19, "0.05")]
UCC_LOSS_THR = 1.19
UCC_LOSS_SEGS = [(2, 0.05, 0.45, 0.217), (2, 0.15, 0.2, 0.647), (2, 0.3, 0.35, 0.217), (2, 0.65, 0.72, 0.34),
                 (3, 0.4, 0.47, 0.647), (5, 0.0, 0.05, 0.142), (9, 0.25, 0.3, 0.142),
                 (18, 0.3, 0.36, 0.06), (19, 0.05, 0.4, 0.647), (19, 0.1, 0.35, 0.34),
                 (26, 0.95, 1.0, 0.8), (28, 0.9, 0.98, 0.647), (32, 0.4, 0.5, 0.647), (33, 0.4, 0.5, 0.8),
                 (36, 0.85, 0.95, 0.34), (37, 0.4, 0.5, 0.217), (37, 0.55, 0.65, 0.217)]
UCC_LOSS_LABELS = []

UCC_GAIN_TOP = [(0.0, "0.08"), (0.05, "0.1"), (0.55, "0.2")]
UCC_GAIN_BOTTOM = [(0.98, "$10^{-1}$"), (1.19, "0.05")]
UCC_GAIN_THR = 1.19
UCC_GAIN_SEGS = [(1, 0.8, 0.9, 0.05), (2, 0.2, 0.4, 0.05), (4, 0.3, 0.5, 0.03), (7, 0.2, 0.4, 0.2),
                 (7, 0.5, 0.7, 0.1), (8, 0.2, 0.5, 0.1), (9, 0.2, 0.6, 0.15), (10, 0.3, 0.6, 0.1),
                 (12, 0.3, 0.6, 0.08), (13, 0.0, 0.9, 0.55), (13, 0.3, 0.6, 0.4), (14, 0.0, 0.8, 0.4),
                 (15, 0.2, 0.6, 0.2), (16, 0.0, 0.6, 0.3), (17, 0.3, 0.7, 0.15), (18, 0.2, 0.6, 0.1),
                 (21, 0.2, 0.6, 0.1), (22, 0.2, 0.6, 0.15), (25, 0.3, 0.6, 0.1), (26, 0.2, 0.6, 0.15),
                 (28, 0.3, 0.5, 0.08), (29, 0.3, 0.6, 0.1), (30, 0.2, 0.4, 0.08), (31, 0.3, 0.6, 0.1),
                 (33, 0.2, 0.5, 0.1), (34, 0.0, 0.9, 0.3), (35, 0.3, 0.6, 0.1), (36, 0.0, 0.8, 0.6),
                 (37, 0.3, 0.6, 0.15)]
UCC_GAIN_LABELS = []

# which cancer panels draw the black/white chromosome ideogram
IDEOGRAM = [False, False, True, False, False, True, False, False, True, True]

PANELS = [
    (BCL_LOSS_TOP, BCL_LOSS_BOTTOM, BCL_LOSS_THR, BCL_LOSS_SEGS, BCL_LOSS_LABELS),
    (BCL_GAIN_TOP, BCL_GAIN_BOTTOM, BCL_GAIN_THR, BCL_GAIN_SEGS, BCL_GAIN_LABELS),
    (MEL_LOSS_TOP, MEL_LOSS_BOTTOM, MEL_LOSS_THR, MEL_LOSS_SEGS, MEL_LOSS_LABELS),
    (MEL_GAIN_TOP, MEL_GAIN_BOTTOM, MEL_GAIN_THR, MEL_GAIN_SEGS, MEL_GAIN_LABELS),
    (GLI_LOSS_TOP, GLI_LOSS_BOTTOM, GLI_LOSS_THR, GLI_LOSS_SEGS, GLI_LOSS_LABELS),
    (GLI_GAIN_TOP, GLI_GAIN_BOTTOM, GLI_GAIN_THR, GLI_GAIN_SEGS, GLI_GAIN_LABELS),
    (OST_LOSS_TOP, OST_LOSS_BOTTOM, OST_LOSS_THR, OST_LOSS_SEGS, OST_LOSS_LABELS),
    (OST_GAIN_TOP, OST_GAIN_BOTTOM, OST_GAIN_THR, OST_GAIN_SEGS, OST_GAIN_LABELS),
    (HSA_LOSS_TOP, HSA_LOSS_BOTTOM, HSA_LOSS_THR, HSA_LOSS_SEGS, HSA_LOSS_LABELS),
    (HSA_GAIN_TOP, HSA_GAIN_BOTTOM, HSA_GAIN_THR, HSA_GAIN_SEGS, HSA_GAIN_LABELS),
    (PUL_LOSS_TOP, PUL_LOSS_BOTTOM, PUL_LOSS_THR, PUL_LOSS_SEGS, PUL_LOSS_LABELS),
    (PUL_GAIN_TOP, PUL_GAIN_BOTTOM, PUL_GAIN_THR, PUL_GAIN_SEGS, PUL_GAIN_LABELS),
    (MAM_LOSS_TOP, MAM_LOSS_BOTTOM, MAM_LOSS_THR, MAM_LOSS_SEGS, MAM_LOSS_LABELS),
    (MAM_GAIN_TOP, MAM_GAIN_BOTTOM, MAM_GAIN_THR, MAM_GAIN_SEGS, MAM_GAIN_LABELS),
    (TCL_LOSS_TOP, TCL_LOSS_BOTTOM, TCL_LOSS_THR, TCL_LOSS_SEGS, TCL_LOSS_LABELS),
    (TCL_GAIN_TOP, TCL_GAIN_BOTTOM, TCL_GAIN_THR, TCL_GAIN_SEGS, TCL_GAIN_LABELS),
    (MCT_LOSS_TOP, MCT_LOSS_BOTTOM, MCT_LOSS_THR, MCT_LOSS_SEGS, MCT_LOSS_LABELS),
    (MCT_GAIN_TOP, MCT_GAIN_BOTTOM, MCT_GAIN_THR, MCT_GAIN_SEGS, MCT_GAIN_LABELS),
    (UCC_LOSS_TOP, UCC_LOSS_BOTTOM, UCC_LOSS_THR, UCC_LOSS_SEGS, UCC_LOSS_LABELS),
    (UCC_GAIN_TOP, UCC_GAIN_BOTTOM, UCC_GAIN_THR, UCC_GAIN_SEGS, UCC_GAIN_LABELS),
]

#layout (pixels)
FIG_W, FIG_H = 2068, 2783
COL_X = [169, 596, 1163, 1590]
ROW_Y = [113, 665, 1216, 1768, 2321]
AX_W, AX_H = 172, 344
TITLE_X = [958, 1955]
TOP_PAD = 45.0
FS = 4.4

sns.set_theme(style="white")
plt.rcParams["font.family"] = ["DejaVu Sans"]

starts = np.concatenate([[0.0], np.cumsum(CHROM_MB)[:-1]])
total = float(np.sum(CHROM_MB))


def ypos(c, f):
    return starts[c - 1] + f * CHROM_MB[c - 1]


def spread(targets, gap, lo, hi):
    '''spread label positions so that they keep at least gap apart'''
    n = len(targets)
    if n == 0:
        return []
    if n > 1:
        gap = min(gap, (hi - lo) / (n - 1))
    order = np.argsort(targets)
    groups = [[targets[i]] for i in order]

    def first(g):
        return np.mean(g) - (len(g) - 1) * gap / 2

    merged = True
    while merged:
        merged = False
        for i in range(len(groups) - 1):
            end0 = first(groups[i]) + (len(groups[i]) - 1) * gap
            if first(groups[i + 1]) - end0 < gap:
                groups[i] = groups[i] + groups[i + 1]
                del groups[i + 1]
                merged = True
                break
    pos = []
    for g in groups:
        pos += [first(g) + k * gap for k in range(len(g))]
    pos = np.array(pos)
    for k in range(n):
        pos[k] = max(pos[k], lo if k == 0 else pos[k - 1] + gap)
    for k in range(n - 1, -1, -1):
        pos[k] = min(pos[k], hi if k == n - 1 else pos[k + 1] - gap)
    out = np.empty(n)
    out[order] = pos
    return out


def draw_panel(fig, row, col, top, bottom, thr, segs, labels, ideo, color):
    L = COL_X[col]
    T = ROW_Y[row]
    rect_y = 1 - (T + AX_H) / FIG_H
    ax = fig.add_axes([L / FIG_W, rect_y, AX_W / FIG_W, AX_H / FIG_H])
    axi = fig.add_axes([(L - 13.5) / FIG_W, rect_y, 10 / FIG_W, AX_H / FIG_H])

    for a in (ax, axi):
        a.set_ylim(total, -TOP_PAD)
        for s in a.spines.values():
            s.set_color("#8c8c8c")
            s.set_linewidth(0.8)
    axi.set_xlim(0, 1)
    axi.set_xticks([])
    axi.set_yticks([])

    # alternating chromosome bands
    for c in range(2, 39, 2):
        ax.axhspan(starts[c - 1], starts[c - 1] + CHROM_MB[c - 1], color="#e6e6e6", lw=0, zorder=0)
        if ideo:
            axi.axhspan(starts[c - 1], starts[c - 1] + CHROM_MB[c - 1], color="black", lw=0)

    ax.axvline(thr, color="#a6dba6", lw=0.9, zorder=1)

    rows = []
    for k, (c, s, e, v) in enumerate(segs):
        y0, y1 = ypos(c, s), ypos(c, e)
        for xx, yy in [(0, y0), (v, y0), (v, y1), (0, y1)]:
            rows.append({"x": xx, "y": yy, "seg": k})
    df = pd.DataFrame(rows)
    if len(df):
        sns.lineplot(data=df, x="x", y="y", units="seg", estimator=None, sort=False,
                     color=color, alpha=0.5, lw=0.7, ax=ax, legend=False)
    ax.set_xlim(0, 1)
    ax.set_ylim(total, -TOP_PAD)
    ax.set_xlabel("")
    ax.set_ylabel("")
    ax.set_yticks([])

    # bottom: p-values, top: frequencies
    inside = [(p, l) for p, l in bottom if p <= 1.0]
    ax.set_xticks([p for p, l in inside], [l for p, l in inside])
    ax.tick_params(axis="x", labelsize=FS, length=1.5, width=0.5, color="#8c8c8c", pad=1, bottom=True)
    for p, l in bottom:
        if p > 1.0:
            ax.text(p, -0.012, l, transform=mtransforms.blended_transform_factory(ax.transData, ax.transAxes),
                    fontsize=FS, ha="center", va="top", clip_on=False)
    sec = ax.secondary_xaxis("top")
    sec.set_xticks([p for p, l in top], [l for p, l in top])
    sec.tick_params(axis="x", labelsize=FS, length=1.5, width=0.5, color="#8c8c8c", pad=0.5)
    sec.spines["top"].set_color("#8c8c8c")

    blend = mtransforms.blended_transform_factory(ax.transAxes, ax.transData)
    for c in range(1, 39):
        ax.text(-0.25 if c % 2 else -0.14, ypos(c, 0.5), str(c), transform=blend,
                fontsize=FS, ha="center", va="center", color="#222222")

    targets = [ypos(c, f) for c, f in labels]
    gap = 15.0 / AX_H * (total + TOP_PAD)
    placed = spread(targets, gap, -TOP_PAD, total)
    for (c, f), t, p in zip(labels, targets, placed):
        ax.plot([1.0, 1.045, 1.12], [t, t, p], color="#555555", lw=0.6, transform=blend, clip_on=False)
        ax.text(1.125, p, f"{c}.{c}", transform=blend, fontsize=FS, ha="left", va="center", color="#222222")


fig = plt.figure(figsize=(FIG_W / 100, FIG_H / 100), dpi=100)
for i, name in enumerate(CANCERS):
    row, pair = i // 2, i % 2
    for j, color in enumerate(["#0000ff", "#ff0000"]):
        top, bottom, thr, segs, labels = PANELS[2 * i + j]
        draw_panel(fig, row, 2 * pair + j, top, bottom, thr, segs, labels, IDEOGRAM[i], color)
    yc = ROW_Y[row] + AX_H / 2
    fig.text(TITLE_X[pair] / FIG_W, 1 - yc / FIG_H, name, rotation=270, fontsize=27,
             fontweight="bold", ha="center", va="center")

fig.savefig("out.png", dpi=100)
